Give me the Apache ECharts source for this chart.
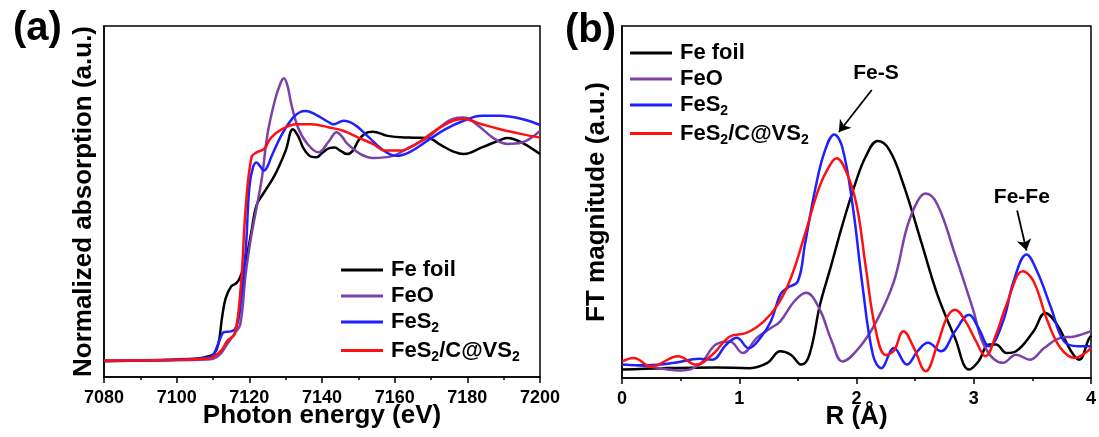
<!DOCTYPE html>
<html>
<head>
<meta charset="utf-8">
<title>XANES / EXAFS</title>
<script src="https://cdn.jsdelivr.net/npm/echarts@6/dist/echarts.min.js"></script>
<style>
    body { margin: 0; background: #fff; }
    #chart { width: 1099px; height: 437px; }
</style>
</head>
<body>
<div id="chart"></div>
<script>
// (a) XANES, photon energy (eV) vs normalized absorption (a.u., 0-100 of the frame)
var aFeFoil = [[7080,4.5],[7090,4.7],[7100,4.9],[7106,5.3],[7109,6.0],[7110.3,6.6],[7111.5,9.5],[7112.5,17],[7113.5,22.5],[7115,25.8],[7116.5,26.8],[7117.5,28.5],[7119,33],[7120.5,41],[7122,49],[7124,52.5],[7127,57.5],[7130,64.5],[7132,70.6],[7133.5,68.5],[7135,65],[7137,62.8],[7138.5,62.6],[7140,63.8],[7142,65.2],[7143.5,65.4],[7145,64.5],[7147,63.5],[7148.5,64.5],[7150,67.3],[7152,69.5],[7154,69.9],[7158,68.7],[7164,68.2],[7169,68.1],[7173,65.9],[7176,64.3],[7179,63.5],[7184,65.4],[7189,67.5],[7191,68.1],[7195,66.8],[7200,63.5]];
var aFeO = [[7080,4.6],[7100,4.8],[7108,5.0],[7110,5.2],[7112,6.5],[7114,9.5],[7116,12.5],[7117.5,15],[7119,29.4],[7120.5,40],[7122,48.3],[7123.5,57],[7125,69.2],[7127,78.7],[7128.5,83.5],[7129.5,85.1],[7130.5,83],[7131.5,78],[7133.4,71.1],[7136,66.4],[7139,64.0],[7142,67.3],[7144,69.7],[7145.5,68.5],[7147,66.4],[7150.6,63.5],[7154,62.4],[7159.5,63.0],[7164,65.4],[7169,68.2],[7173,71.6],[7176,73.5],[7179,73.9],[7183,71.6],[7187,68.2],[7191,66.4],[7195,66.8],[7200,70.1]];
var aFeS2 = [[7080,4.6],[7100,5.0],[7108,5.5],[7110,6.2],[7112,11.0],[7113,12.8],[7115,13.0],[7116.5,14.5],[7117.5,20],[7119,36],[7120,54],[7121,59.7],[7122,61.1],[7123,60],[7124,58.8],[7125,60],[7126,62.6],[7129,69.2],[7132,73.9],[7134,75.5],[7135.5,75.8],[7138,74.9],[7142,72.5],[7143,72.0],[7146,73.0],[7148,72.5],[7150,71.1],[7153,68.2],[7156.5,64.9],[7160.5,63.0],[7164,64.0],[7169,67.3],[7174,70.6],[7179,73.0],[7184,74.4],[7189,74.4],[7195,73.5],[7200,71.8]];
var aComposite = [[7080,4.6],[7100,4.9],[7108,5.2],[7110,5.7],[7112.3,7.6],[7114,10.4],[7116,12.3],[7117.7,26.5],[7119,48.3],[7120.6,62.6],[7122,64.0],[7124,64.9],[7126,68.2],[7129,70.6],[7133,72.0],[7137,72.0],[7142,71.1],[7146,70.1],[7150,68.2],[7154,66.4],[7157.5,64.5],[7161.5,64.5],[7166,66.4],[7171,70.1],[7176,73.0],[7179,73.5],[7184,72.0],[7189,70.6],[7195,69.2],[7200,68.2]];

// (b) FT-EXAFS, R (Å) vs FT magnitude (a.u.)
var bFeFoil = [[0,2.4],[0.36,2.8],[0.8,3.0],[1.09,2.8],[1.24,4.3],[1.35,7.6],[1.44,6.6],[1.53,3.8],[1.6,6.8],[1.69,21],[1.78,31.5],[1.88,43.5],[1.99,55.3],[2.08,63],[2.18,67.3],[2.28,64.8],[2.40,55.0],[2.55,38.9],[2.69,23.7],[2.84,11.4],[2.96,2.4],[3.04,4.7],[3.13,9.5],[3.19,9.5],[3.28,7.1],[3.36,7.6],[3.51,13.3],[3.61,18.5],[3.71,15.2],[3.83,7.6],[3.9,5.2],[3.98,11],[4,12]];
var bFeO = [[0,3.8],[0.22,3.3],[0.51,2.1],[0.66,3.8],[0.80,9.5],[0.92,10.4],[1.03,7.1],[1.15,11.4],[1.27,14.2],[1.35,16.1],[1.47,21.8],[1.57,24.2],[1.68,19.9],[1.79,10.4],[1.88,4.7],[2.02,8.5],[2.17,16.1],[2.32,27.5],[2.43,42.7],[2.52,50.2],[2.59,52.4],[2.69,49.3],[2.84,35.1],[2.99,19.9],[3.10,8.5],[3.25,4.3],[3.36,6.6],[3.48,5.2],[3.60,8.5],[3.74,11.4],[3.86,11.8],[4,13.3]];
var bFeS2 = [[0,3.8],[0.22,3.6],[0.45,4.3],[0.66,5.5],[0.77,5.2],[0.89,9.5],[0.98,11.4],[1.08,8.5],[1.18,11.4],[1.27,16.1],[1.35,23.7],[1.41,25.6],[1.50,27.5],[1.56,37.9],[1.65,54.0],[1.73,64.5],[1.81,69.2],[1.88,65.4],[1.97,48.3],[2.05,26.5],[2.14,6.6],[2.21,2.8],[2.32,8.5],[2.43,3.8],[2.52,7.6],[2.61,10.0],[2.72,7.6],[2.84,13.3],[2.96,18.0],[3.04,14.2],[3.13,9.0],[3.25,16.1],[3.34,27.5],[3.45,35.1],[3.54,30.3],[3.66,19.9],[3.77,10.4],[3.89,9.0],[4,9.0]];
var bComposite = [[0,4.7],[0.10,5.7],[0.25,3.3],[0.48,6.2],[0.63,3.8],[0.77,6.6],[0.92,11.8],[1.06,12.8],[1.21,16.1],[1.33,20.9],[1.44,28.4],[1.56,40.8],[1.68,54.0],[1.76,59.7],[1.83,62.4],[1.91,58.8],[2.0,49.3],[2.08,31.3],[2.16,14.2],[2.25,6.5],[2.32,7.8],[2.40,13.3],[2.49,8.5],[2.59,1.9],[2.69,9.5],[2.77,17.1],[2.84,19.4],[2.93,16.1],[3.02,10.4],[3.10,6.2],[3.19,12.3],[3.28,20.9],[3.42,30.3],[3.51,27.5],[3.63,16.1],[3.74,8.5],[3.86,5.7],[3.95,7.1],[4,8.5]];

var seriesNames = ['Fe foil', 'FeO', 'FeS2', 'FeS2/C@VS2'];
var seriesColors = ['#000000', '#7a42a8', '#1f1fff', '#ff1010'];

// annotation: text position, arrow start, arrow end
var feSNote = { text: 'Fe-S', at: [2.166, 86.6], from: [2.13, 81.8], to: [1.85, 69.9] };
var feFeNote = { text: 'Fe-Fe', at: [3.41, 51.3], from: [3.37, 47.6], to: [3.45, 36.2] };

var FONT = '"Liberation Sans", Arial, sans-serif';

// legend text: every "2" becomes a subscript
function legendText(name) {
    var parts = name.split('2');
    var out = '';
    for (var k = 0; k < parts.length; k++) {
        if (parts[k]) out += '{n|' + parts[k] + '}';
        if (k < parts.length - 1) out += '{s|2}';
    }
    return out;
}

var richText = {
    n: { fontSize: 22, fontWeight: 'bold', fontFamily: FONT, color: '#000', lineHeight: 27, verticalAlign: 'middle' },
    s: { fontSize: 14, fontWeight: 'bold', fontFamily: FONT, color: '#000', lineHeight: 27, verticalAlign: 'bottom' }
};

function makeLegend(idx, left, top) {
    return {
        data: seriesNames.map(function (n) { return n + (idx ? ' ' : ''); }),
        orient: 'vertical',
        left: left,
        top: top,
        icon: 'rect',
        itemWidth: 42,
        itemHeight: 3,
        itemGap: 4,
        formatter: function (name) { return legendText(name.trim()); },
        textStyle: { rich: richText, padding: [0, 0, 0, 3] }
    };
}

function xAxisCommon(min, max, interval, name, gridIndex) {
    return {
        type: 'value',
        gridIndex: gridIndex,
        min: min,
        max: max,
        interval: interval,
        name: name,
        nameLocation: 'middle',
        nameGap: 26,
        nameMoveOverlap: false,
        nameTextStyle: { fontSize: 26, fontWeight: 'bold', fontFamily: FONT, color: '#000' },
        axisLine: { lineStyle: { color: '#000', width: 1.5 } },
        axisTick: { inside: false, length: 6, lineStyle: { color: '#000', width: 1.5 } },
        minorTick: { show: true, splitNumber: 2, length: 3, lineStyle: { color: '#000', width: 1.5 } },
        axisLabel: {
            fontSize: 18, fontWeight: 'bold', fontFamily: FONT, color: '#000', margin: 12,
            formatter: function (v) { return String(v); }
        },
        splitLine: { show: false }
    };
}

function yAxisCommon(name, gap, gridIndex) {
    return {
        type: 'value',
        gridIndex: gridIndex,
        min: 0,
        max: 100,
        name: name,
        nameLocation: 'middle',
        nameGap: gap,
        nameTextStyle: { fontSize: 26, fontWeight: 'bold', fontFamily: FONT, color: '#000' },
        axisLine: { show: true, lineStyle: { color: '#000', width: 1.5 } },
        axisTick: { show: false },
        axisLabel: { show: false },
        splitLine: { show: false }
    };
}

function lineSeries(name, data, color, xi) {
    return {
        name: name,
        type: 'line',
        xAxisIndex: xi,
        yAxisIndex: xi,
        data: data,
        smooth: 0.4,
        showSymbol: false,
        symbol: 'none',
        animation: false,
        lineStyle: { color: color, width: 2.5 },
        itemStyle: { color: color },
        z: 3
    };
}

function noteSeries(note) {
    var lbl = { show: true, formatter: note.text, color: '#000', fontSize: 21, fontWeight: 'bold', fontFamily: FONT, position: 'inside' };
    return {
        type: 'line',
        xAxisIndex: 1,
        yAxisIndex: 1,
        data: [],
        animation: false,
        markPoint: {
            symbol: 'circle',
            symbolSize: 1,
            itemStyle: { color: 'rgba(0,0,0,0)' },
            label: lbl,
            data: [{ coord: note.at }]
        },
        markLine: {
            symbol: ['none', 'arrow'],
            symbolSize: 11,
            silent: true,
            label: { show: false },
            lineStyle: { color: '#000', width: 1.8, type: 'solid' },
            itemStyle: { color: '#000' },
            data: [[{ coord: note.from }, { coord: note.to }]]
        }
    };
}

var aData = [aFeFoil, aFeO, aFeS2, aComposite];
var bData = [bFeFoil, bFeO, bFeS2, bComposite];
var series = [];
for (var i = 0; i < 4; i++) {
    series.push(lineSeries(seriesNames[i], aData[i], seriesColors[i], 0));
}
for (var j = 0; j < 4; j++) {
    // second panel uses names with a trailing space so each legend only lists its own panel
    series.push(lineSeries(seriesNames[j] + ' ', bData[j], seriesColors[j], 1));
}
series.push(noteSeries(feSNote));
series.push(noteSeries(feFeNote));

var myChart = echarts.init(document.getElementById('chart'), null, { renderer: 'canvas' });

var option = {
    backgroundColor: '#fff',
    animation: false,
    title: [
        { text: '(a)', left: 8, top: 4, textStyle: { fontSize: 40, fontWeight: 'bold', fontFamily: FONT, color: '#000' } },
        { text: '(b)', left: 560, top: 6, textStyle: { fontSize: 40, fontWeight: 'bold', fontFamily: FONT, color: '#000' } }
    ],
    grid: [
        { left: 104, right: 559, top: 26, bottom: 60, outerBoundsMode: 'none', show: true, borderColor: '#000', borderWidth: 1.5, backgroundColor: 'transparent' },
        { left: 622, right: 8, top: 26, bottom: 59, outerBoundsMode: 'none', show: true, borderColor: '#000', borderWidth: 1.5, backgroundColor: 'transparent' }
    ],
    legend: [makeLegend(0, 336, 254), makeLegend(1, 625, 37)],
    xAxis: [
        xAxisCommon(7080, 7200, 20, 'Photon energy (eV)', 0),
        xAxisCommon(0, 4, 1, 'R (Å)', 1)
    ],
    yAxis: [
        yAxisCommon('Normalized absorption (a.u.)', 7, 0),
        yAxisCommon('FT magnitude (a.u.)', 12, 1)
    ],
    series: series
};

myChart.setOption(option);
</script>
</body>
</html>
